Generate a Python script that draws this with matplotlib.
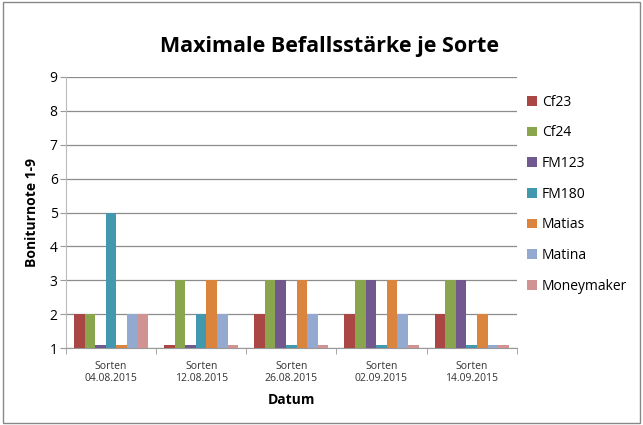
import numpy as np
from matplotlib import pyplot as plt
from matplotlib.patches import Rectangle

plt.rcParams['font.family'] = ['Open Sans', 'DejaVu Sans']

dates = ["Sorten\n04.08.2015", "Sorten\n12.08.2015", "Sorten\n26.08.2015",
         "Sorten\n02.09.2015", "Sorten\n14.09.2015"]
sorten = ["Cf23", "Cf24", "FM123", "FM180", "Matias", "Matina", "Moneymaker"]
colors = ["#AA4643", "#89A54E", "#71588F", "#4198AF", "#DB843D", "#93A9CF", "#D19392"]

# values per Sorte (one entry per date)
cf23 = [2, 1.1, 2, 2, 2]
cf24 = [2, 3, 3, 3, 3]
fm123 = [1.1, 1.1, 3, 3, 3]
fm180 = [5, 2, 1.1, 1.1, 1.1]
matias = [1.1, 3, 3, 3, 2]
matina = [2, 2, 2, 2, 1.1]
moneymaker = [2, 1.1, 1.1, 1.1, 1.1]
series = [cf23, cf24, fm123, fm180, matias, matina, moneymaker]

fig = plt.figure(figsize=(6.43, 4.25), dpi=100)
ax = fig.add_axes([0.1026, 0.181, 0.701, 0.638])

x = np.arange(len(dates))
w = 1 / 8.5
for i, (name, vals) in enumerate(zip(sorten, series)):
    offs = (i - 3) * w
    ax.bar(x + offs, np.array(vals) - 1, w, bottom=1, color=colors[i],
           label=name, zorder=3)

ax.set_ylim(1, 9)
ax.set_xlim(-0.5, 4.5)
ax.set_yticks(range(1, 10))
ax.grid(axis='y', color='#8c8c8c', linewidth=0.9, zorder=0)
ax.set_xticks(x)
ax.set_xticklabels(dates, fontsize=7.5, color='#333333')
ax.tick_params(axis='x', length=0, pad=9)
ax.set_xticks(np.arange(-0.5, 5, 1), minor=True)
ax.tick_params(axis='x', which='minor', length=4, color='#999999')
ax.tick_params(axis='y', length=4, color='#999999', labelsize=10, pad=2)
for s in ['top', 'right']:
    ax.spines[s].set_visible(False)
ax.spines['left'].set_color('#bbbbbb')
ax.spines['bottom'].set_color('#999999')

ax.set_ylabel("Boniturnote 1-9", fontsize=10, fontweight='bold', labelpad=8)
ax.set_xlabel("Datum", fontsize=10, fontweight='bold', labelpad=6)
fig.text(0.512, 0.891, "Maximale Befallsstärke je Sorte", fontsize=15.5,
         fontweight='bold', ha='center', va='center')

ax.legend(loc='upper left', bbox_to_anchor=(1.01, 0.955), frameon=False,
          fontsize=10, handlelength=0.7, handleheight=0.7, handletextpad=0.4,
          labelspacing=1.13, borderaxespad=0)

fig.patches.append(Rectangle((0.004, 0.005), 0.992, 0.99, transform=fig.transFigure,
                             fill=False, edgecolor='#888888', linewidth=1))

plt.savefig("out.png", dpi=100)
